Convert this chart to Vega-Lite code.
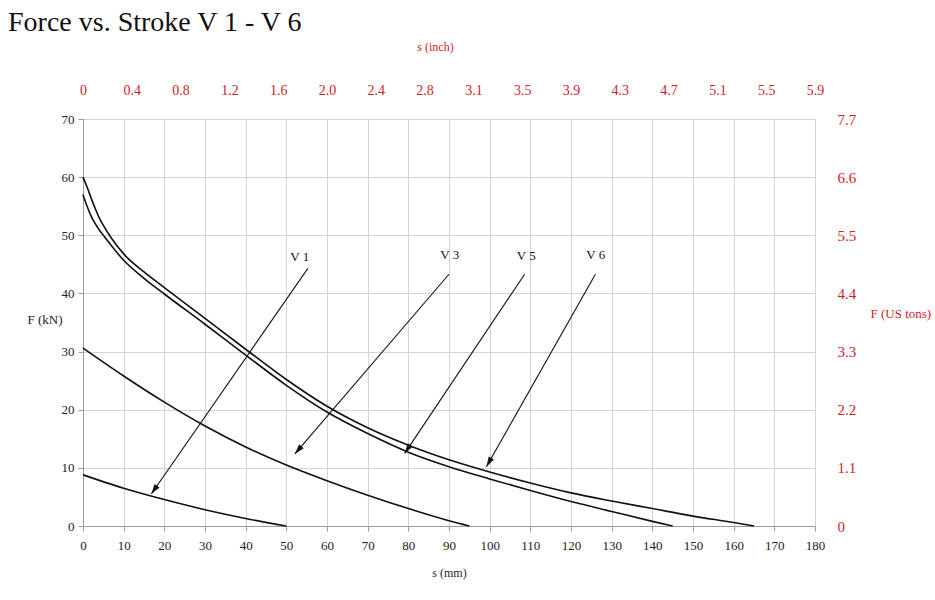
{
  "$schema": "https://vega.github.io/schema/vega-lite/v6.json",
  "width": 732,
  "height": 407,
  "autosize": {"type": "none"},
  "padding": {"left": 83, "top": 119, "right": 120, "bottom": 74},
  "background": "white",
  "title": {"text": "Force vs. Stroke V 1 - V 6", "anchor": "start", "frame": "group", "dx": -75, "fontSize": 28, "font": "Liberation Serif", "fontWeight": "normal", "color": "#111111", "offset": 3},
  "config": {
    "font": "Liberation Serif",
    "view": {"stroke": null},
    "axis": {"labelFont": "Liberation Serif", "titleFont": "Liberation Serif", "titleFontWeight": "normal", "gridColor": "#d3d3d3", "gridOpacity": 1}
  },
  "datasets": {
    "curves": [
      {"series": "V1", "s": 0, "F": 8.8}, {"series": "V1", "s": 10, "F": 6.5}, {"series": "V1", "s": 20, "F": 4.55}, {"series": "V1", "s": 30, "F": 2.8}, {"series": "V1", "s": 40, "F": 1.3}, {"series": "V1", "s": 50, "F": 0},
      {"series": "V3", "s": 0, "F": 30.6}, {"series": "V3", "s": 10, "F": 25.8}, {"series": "V3", "s": 20, "F": 21.3}, {"series": "V3", "s": 30, "F": 17.2}, {"series": "V3", "s": 40, "F": 13.6}, {"series": "V3", "s": 50, "F": 10.5}, {"series": "V3", "s": 60, "F": 7.8}, {"series": "V3", "s": 70, "F": 5.3}, {"series": "V3", "s": 80, "F": 3.0}, {"series": "V3", "s": 90, "F": 0.9}, {"series": "V3", "s": 95, "F": 0},
      {"series": "V5", "s": 0, "F": 57.0}, {"series": "V5", "s": 1, "F": 55.0}, {"series": "V5", "s": 2, "F": 53.3}, {"series": "V5", "s": 3, "F": 52.0}, {"series": "V5", "s": 4, "F": 50.9}, {"series": "V5", "s": 5, "F": 50.0}, {"series": "V5", "s": 7, "F": 48.2}, {"series": "V5", "s": 10, "F": 45.7}, {"series": "V5", "s": 15, "F": 42.6}, {"series": "V5", "s": 20, "F": 39.9}, {"series": "V5", "s": 30, "F": 34.7}, {"series": "V5", "s": 40, "F": 29.4}, {"series": "V5", "s": 50, "F": 24.2}, {"series": "V5", "s": 60, "F": 19.6}, {"series": "V5", "s": 70, "F": 15.9}, {"series": "V5", "s": 80, "F": 12.7}, {"series": "V5", "s": 90, "F": 10.2}, {"series": "V5", "s": 100, "F": 8.1}, {"series": "V5", "s": 110, "F": 6.1}, {"series": "V5", "s": 120, "F": 4.2}, {"series": "V5", "s": 130, "F": 2.5}, {"series": "V5", "s": 140, "F": 0.8}, {"series": "V5", "s": 145, "F": 0},
      {"series": "V6", "s": 0, "F": 60.0}, {"series": "V6", "s": 1, "F": 58.3}, {"series": "V6", "s": 2, "F": 56.4}, {"series": "V6", "s": 3, "F": 54.6}, {"series": "V6", "s": 4, "F": 53.0}, {"series": "V6", "s": 5, "F": 51.7}, {"series": "V6", "s": 7, "F": 49.5}, {"series": "V6", "s": 10, "F": 46.8}, {"series": "V6", "s": 15, "F": 43.7}, {"series": "V6", "s": 20, "F": 41.0}, {"series": "V6", "s": 30, "F": 35.7}, {"series": "V6", "s": 40, "F": 30.4}, {"series": "V6", "s": 50, "F": 25.2}, {"series": "V6", "s": 60, "F": 20.6}, {"series": "V6", "s": 70, "F": 16.9}, {"series": "V6", "s": 80, "F": 13.9}, {"series": "V6", "s": 90, "F": 11.4}, {"series": "V6", "s": 100, "F": 9.3}, {"series": "V6", "s": 110, "F": 7.4}, {"series": "V6", "s": 120, "F": 5.7}, {"series": "V6", "s": 130, "F": 4.3}, {"series": "V6", "s": 140, "F": 3.0}, {"series": "V6", "s": 150, "F": 1.7}, {"series": "V6", "s": 160, "F": 0.6}, {"series": "V6", "s": 165, "F": 0}
    ],
    "arrows": [
      {"label": "V 1", "ls": 53.3, "lf": 46.3, "s0": 55.3, "f0": 44.3, "s1": 16.8, "f1": 5.5},
      {"label": "V 3", "ls": 90.2, "lf": 46.6, "s0": 90.0, "f0": 43.3, "s1": 52.1, "f1": 12.4},
      {"label": "V 5", "ls": 109.0, "lf": 46.4, "s0": 108.6, "f0": 43.3, "s1": 79.1, "f1": 12.5},
      {"label": "V 6", "ls": 126.1, "lf": 46.6, "s0": 126.0, "f0": 43.3, "s1": 99.2, "f1": 10.2}
    ]
  },
  "resolve": {"axis": {"x": "independent", "y": "independent"}},
  "layer": [
    {
      "data": {"name": "curves"},
      "mark": {"type": "line", "color": "#111111", "strokeWidth": 1.6, "interpolate": "monotone"},
      "encoding": {
        "x": {
          "field": "s", "type": "quantitative",
          "scale": {"domain": [0, 180], "nice": false},
          "axis": {
            "title": "s (mm)", "orient": "bottom",
            "values": [0, 10, 20, 30, 40, 50, 60, 70, 80, 90, 100, 110, 120, 130, 140, 150, 160, 170, 180],
            "grid": true, "gridColor": "#d3d3d3", "gridWidth": 1, "gridOpacity": 1,
            "domainColor": "#9a9a9a", "tickColor": "#9a9a9a", "tickSize": 5,
            "labelFontSize": 13, "labelColor": "#222222", "labelPadding": 8, "labelFlush": false,
            "titleFontSize": 12, "titleColor": "#222222", "titlePadding": 15
          }
        },
        "y": {
          "field": "F", "type": "quantitative",
          "scale": {"domain": [0, 70], "nice": false},
          "axis": {
            "title": "F (kN)", "orient": "left",
            "values": [0, 10, 20, 30, 40, 50, 60, 70],
            "grid": true, "gridColor": "#d3d3d3", "gridWidth": 1, "gridOpacity": 1,
            "domainColor": "#9a9a9a", "tickColor": "#9a9a9a", "tickSize": 5,
            "labelFontSize": 13, "labelColor": "#222222", "labelPadding": 4, "labelFlush": false,
            "titleFontSize": 13, "titleColor": "#222222", "titleAngle": 0, "titleAlign": "left", "titleBaseline": "middle", "titleX": -56, "titleY": 200
          }
        },
        "detail": {"field": "series"}
      }
    },
    {
      "data": {"name": "arrows"},
      "mark": {"type": "rule", "color": "#111111", "strokeWidth": 1.1},
      "encoding": {
        "x": {
          "field": "s0", "type": "quantitative",
          "scale": {"domain": [0, 180], "nice": false},
          "axis": {
            "title": "s (inch)", "orient": "top",
            "values": [0, 12, 24, 36, 48, 60, 72, 84, 96, 108, 120, 132, 144, 156, 168, 180],
            "labelExpr": "['0','0.4','0.8','1.2','1.6','2.0','2.4','2.8','3.1','3.5','3.9','4.3','4.7','5.1','5.5','5.9'][round(datum.value/12)]",
            "grid": false, "domain": false, "ticks": false, "tickSize": 0,
            "labelFontSize": 14, "labelColor": "#d0212a", "labelPadding": 22, "labelFlush": false,
            "titleFontSize": 12, "titleColor": "#d0212a", "titlePadding": 30, "titleX": 352
          }
        },
        "x2": {"field": "s1"},
        "y": {
          "field": "f0", "type": "quantitative",
          "scale": {"domain": [0, 70], "nice": false},
          "axis": {
            "title": "F (US tons)", "orient": "right",
            "values": [0, 10, 20, 30, 40, 50, 60, 70],
            "labelExpr": "['0','1.1','2.2','3.3','4.4','5.5','6.6','7.7'][round(datum.value/10)]",
            "grid": false, "domain": false, "ticks": false, "tickSize": 0,
            "labelFontSize": 15, "labelColor": "#d0212a", "labelPadding": 22, "labelFlush": false,
            "titleFontSize": 13, "titleColor": "#d0212a", "titleAngle": 0, "titleAlign": "left", "titleBaseline": "middle", "titleX": 55, "titleY": 194
          }
        },
        "y2": {"field": "f1"}
      }
    },
    {
      "data": {"name": "arrows"},
      "transform": [
        {"calculate": "atan2((datum.s1 - datum.s0) * 732 / 180, (datum.f1 - datum.f0) * 407 / 70) * 180 / PI", "as": "ang"}
      ],
      "mark": {"type": "point", "shape": "M0,0L-0.6,2L0.6,2Z", "filled": true, "color": "#111111", "opacity": 1, "size": 100},
      "encoding": {
        "x": {"field": "s1", "type": "quantitative", "scale": {"domain": [0, 180], "nice": false}, "axis": null},
        "y": {"field": "f1", "type": "quantitative", "scale": {"domain": [0, 70], "nice": false}, "axis": null},
        "angle": {"field": "ang", "type": "quantitative", "scale": null}
      }
    },
    {
      "data": {"name": "arrows"},
      "mark": {"type": "text", "font": "Liberation Serif", "fontSize": 13, "color": "#111111", "align": "center", "baseline": "middle"},
      "encoding": {
        "x": {"field": "ls", "type": "quantitative", "scale": {"domain": [0, 180], "nice": false}, "axis": null},
        "y": {"field": "lf", "type": "quantitative", "scale": {"domain": [0, 70], "nice": false}, "axis": null},
        "text": {"field": "label"}
      }
    }
  ]
}
